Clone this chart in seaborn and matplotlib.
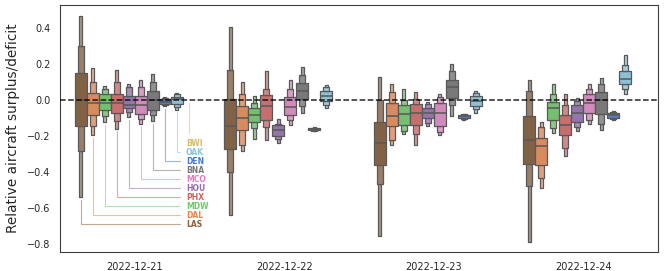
import numpy as np
import pandas as pd
import seaborn as sns
import matplotlib
matplotlib.use('Agg')
import matplotlib.pyplot as plt

sns.set_style('white')

# dates and airports (hue order, left to right inside each date)
dates = ['2022-12-21', '2022-12-22', '2022-12-23', '2022-12-24']
airports = ['LAS', 'DAL', 'MDW', 'PHX', 'HOU', 'MCO', 'BNA', 'DEN', 'OAK', 'BWI']

colors = {'LAS': '#8C613C', 'DAL': '#EE854A', 'MDW': '#6ACC64', 'PHX': '#D65F5F',
          'HOU': '#956CB4', 'MCO': '#DC7EC0', 'BNA': '#797979', 'DEN': '#4878D0',
          'OAK': '#82C6E2', 'BWI': '#D5BB67'}

# letter values, per airport and date:
# [min, 12.5%, 25%, median, 75%, 87.5%, max]
LAS = [[-0.54, -0.28, -0.145, 0.0, 0.153, 0.30, 0.47],
       [-0.637, -0.40, -0.27, -0.145, 0.004, 0.171, 0.406],
       [-0.754, -0.469, -0.359, -0.236, -0.121, 0.0, 0.127],
       [-0.788, -0.48, -0.354, -0.223, -0.086, 0.052, 0.112]]
DAL = [[-0.195, -0.145, -0.084, -0.015, 0.04, 0.10, 0.18],
       [-0.28, -0.25, -0.164, -0.097, -0.032, 0.034, 0.10],
       [-0.248, -0.22, -0.143, -0.089, -0.018, 0.047, 0.088],
       [-0.488, -0.432, -0.358, -0.257, -0.209, -0.149, -0.121]]
MDW = [[-0.121, -0.089, -0.056, -0.018, 0.032, 0.06, 0.078],
       [-0.218, -0.153, -0.121, -0.084, -0.041, -0.015, 0.022],
       [-0.19, -0.173, -0.136, -0.074, -0.028, 0.0, 0.065],
       [-0.181, -0.155, -0.108, -0.046, -0.009, 0.037, 0.089]]
PHX = [[-0.158, -0.115, -0.071, -0.018, 0.037, 0.10, 0.17],
       [-0.22, -0.149, -0.108, -0.034, 0.028, 0.065, 0.162],
       [-0.251, -0.19, -0.136, -0.071, -0.022, 0.009, 0.047],
       [-0.313, -0.264, -0.196, -0.136, -0.08, -0.024, 0.037]]
HOU = [[-0.093, -0.065, -0.046, -0.024, 0.026, 0.071, 0.088],
       [-0.236, -0.214, -0.201, -0.168, -0.14, -0.13, -0.102],
       [-0.143, -0.127, -0.099, -0.069, -0.041, -0.022, -0.009],
       [-0.173, -0.149, -0.121, -0.069, -0.028, -0.004, 0.015]]
MCO = [[-0.13, -0.106, -0.078, -0.028, 0.022, 0.071, 0.115],
       [-0.14, -0.112, -0.084, -0.037, 0.018, 0.06, 0.112],
       [-0.192, -0.177, -0.145, -0.069, -0.018, 0.018, 0.037],
       [-0.13, -0.108, -0.071, -0.018, 0.032, 0.06, 0.088]]
BNA = [[-0.115, -0.084, -0.056, 0.0, 0.052, 0.10, 0.145],
       [-0.069, -0.034, 0.004, 0.05, 0.097, 0.143, 0.186],
       [-0.088, -0.028, 0.013, 0.071, 0.115, 0.164, 0.201],
       [-0.168, -0.13, -0.074, 0.0, 0.047, 0.089, 0.125]]
DEN = [[-0.034, -0.028, -0.022, -0.009, 0.007, 0.012, 0.018],
       [-0.174, -0.17, -0.167, -0.162, -0.157, -0.153, -0.15],
       [-0.108, -0.102, -0.097, -0.089, -0.081, -0.078, -0.074],
       [-0.11, -0.104, -0.098, -0.084, -0.072, -0.067, -0.062]]
OAK = [[-0.052, -0.037, -0.022, 0.004, 0.018, 0.032, 0.041],
       [-0.046, -0.028, -0.006, 0.022, 0.052, 0.071, 0.084],
       [-0.069, -0.048, -0.034, -0.004, 0.022, 0.041, 0.052],
       [0.032, 0.065, 0.088, 0.117, 0.164, 0.196, 0.251]]

values = {'LAS': LAS, 'DAL': DAL, 'MDW': MDW, 'PHX': PHX, 'HOU': HOU,
          'MCO': MCO, 'BNA': BNA, 'DEN': DEN, 'OAK': OAK}

# where the label lines start (bottom of each 2022-12-21 box, BWI sits on 0)
anchor = {a: values[a][0][0] for a in values}
anchor['BWI'] = 0.0

# expand the letter values into a small table so that boxenplot (k_depth=3)
# lands exactly on them: percentiles 6.25/12.5/25/50/75/87.5/93.75 of 17 points
counts = [2, 2, 4, 1, 4, 2, 2]
rows = []
for a, per_date in values.items():
    for d, lv in zip(dates, per_date):
        for v in np.repeat(lv, counts):
            rows.append((d, a, v))
df = pd.DataFrame(rows, columns=['date', 'airport', 'surplus'])

fig = plt.figure(figsize=(6.64, 2.71), dpi=100)
ax = fig.add_axes([0.0904, 0.0701, 0.9006, 0.9114])

sns.boxenplot(data=df, x='date', y='surplus', hue='airport', order=dates,
              hue_order=airports, palette=colors, k_depth=3, showfliers=False,
              linewidth=0.9, linecolor='.35', legend=False, ax=ax)
ax.axhline(0, color='k', ls='--', lw=1.1, alpha=0.85, zorder=10)

# labels hanging off the first date
n = len(airports)
for i, a in enumerate(airports):
    xpos = -0.4 + 0.8 / n * (i + 0.5)
    ytext = -0.24 - 0.05 * (n - 1 - i)
    ax.annotate(a, xy=(xpos, anchor[a]), xytext=(0.343, ytext),
                ha='left', va='center', fontsize=5.5, fontweight='bold',
                color=colors[a],
                arrowprops=dict(arrowstyle='-', color=colors[a], alpha=0.55, lw=0.8,
                                connectionstyle='angle,angleA=0,angleB=90,rad=0',
                                relpos=(0, 0.5), shrinkA=2, shrinkB=2))

ax.set_xlim(-0.5, 3.5)
ax.set_ylim(-0.845, 0.53)
ax.set_xlabel('')
ax.set_ylabel('Relative aircraft surplus/deficit', fontsize=9.8, labelpad=5)
ax.tick_params(axis='both', labelsize=7, colors='.15')
for s in ax.spines.values():
    s.set_color('.25')

plt.savefig('out.png', dpi=100)
